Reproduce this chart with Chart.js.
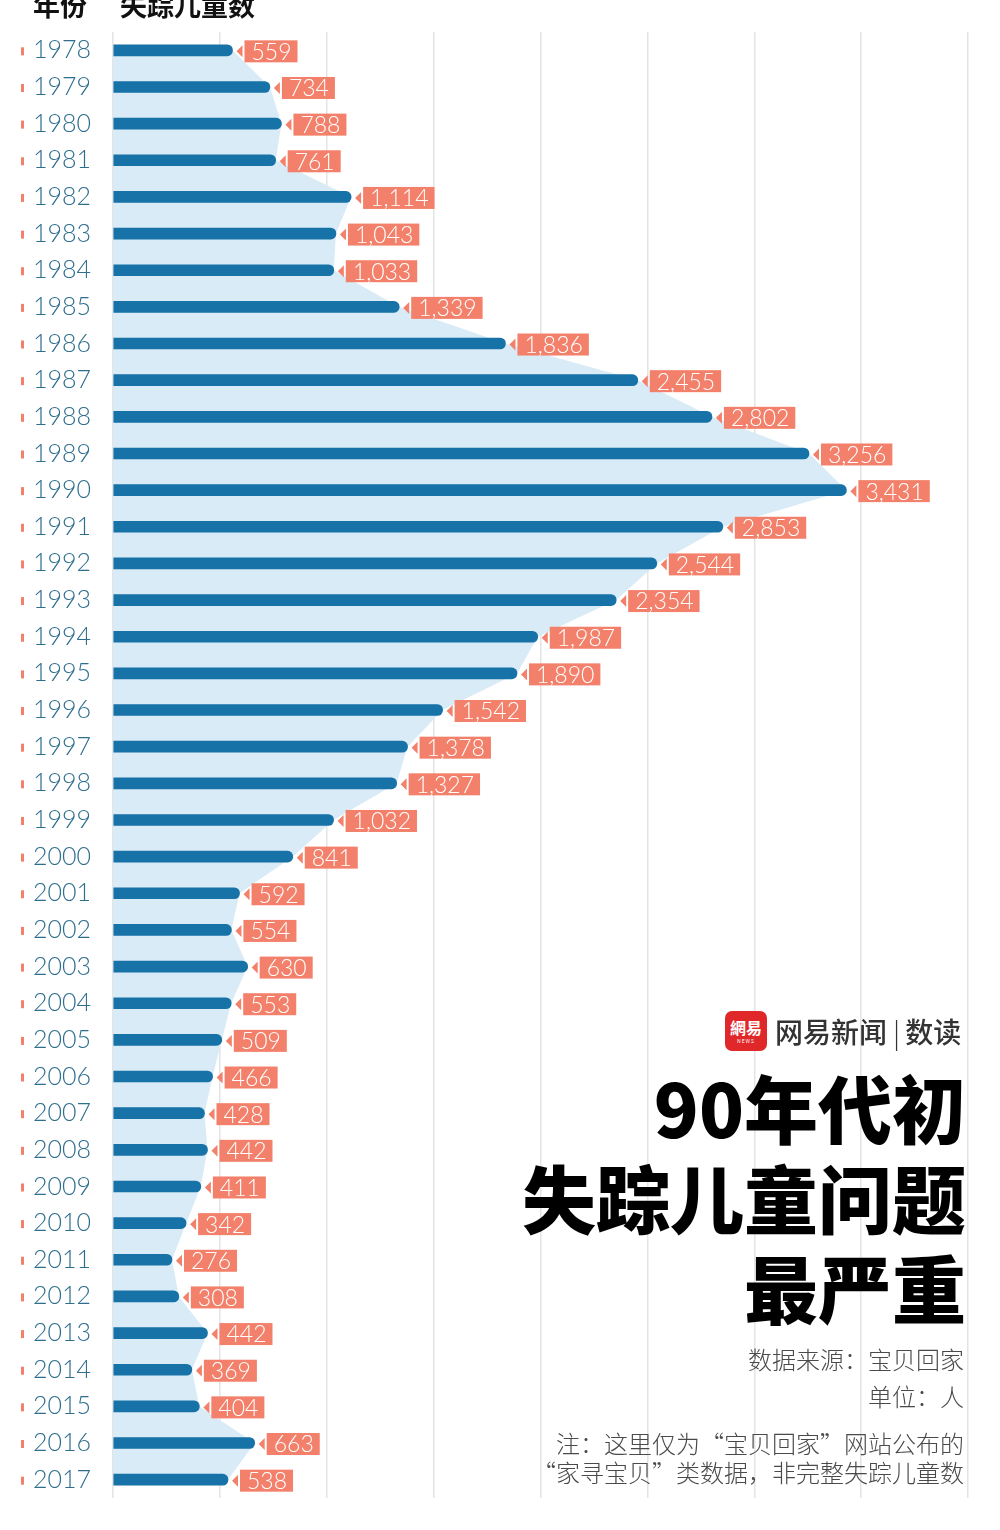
<!DOCTYPE html>
<html>
<head>
<meta charset="utf-8">
<script src="https://cdn.jsdelivr.net/npm/chart.js@4/dist/chart.umd.min.js"></script>
<style>
  body { margin: 0; background: #fff; }
  #wrap { position: relative; width: 1000px; height: 1530px; overflow: hidden; }
  .txt { position: absolute; font-family: "Noto Sans CJK SC", sans-serif; white-space: nowrap; }
  .hdr { top: -9px; font-size: 27px; font-weight: 700; line-height: 28px; color: #111; }
  .title { right: 34px; font-size: 74px; font-weight: 900; line-height: 90px; color: #000; text-align: right; }
  .note { right: 36px; font-size: 24px; font-weight: 300; color: #4a4a4a; text-align: right; line-height: 29px; }
  #logo { position: absolute; left: 725px; top: 1011px; width: 42px; height: 40px; background: #e0272a; border-radius: 7px; color: #fff; text-align: center; font-family: "Noto Sans CJK TC", sans-serif; }
</style>
</head>
<body>
<div id="wrap">
  <canvas id="chartMissing" width="1000" height="1530"></canvas>
  <div class="txt hdr" style="left:33px">年份</div>
  <div class="txt hdr" style="left:120px">失踪儿童数</div>
  <div id="logo"><div style="font-size:16px;font-weight:700;line-height:22px;margin-top:5px">網易</div><div style="font-size:5px;line-height:6px;letter-spacing:1px">NEWS</div></div>
  <div class="txt" style="left:775px;top:1011px;font-size:28px;font-weight:500;color:#333;line-height:40px">网易新闻<span style="font-weight:300;margin:0 5px 0 6px">|</span>数读</div>
  <div class="txt title" style="top:1061px">90年代初</div>
  <div class="txt title" style="top:1151px">失踪儿童问题</div>
  <div class="txt title" style="top:1241px">最严重</div>
  <div class="txt note" style="top:1344px">数据来源：宝贝回家</div>
  <div class="txt note" style="top:1381px">单位：人</div>
  <div class="txt note" style="top:1428px">注：这里仅为“宝贝回家”网站公布的</div>
  <div class="txt note" style="top:1457px">“家寻宝贝”类数据，非完整失踪儿童数</div>
</div>
<script>
const years = ["1978","1979","1980","1981","1982","1983","1984","1985","1986","1987",
  "1988","1989","1990","1991","1992","1993","1994","1995","1996","1997",
  "1998","1999","2000","2001","2002","2003","2004","2005","2006","2007",
  "2008","2009","2010","2011","2012","2013","2014","2015","2016","2017"];
const missingCounts = [559,734,788,761,1114,1043,1033,1339,1836,2455,
  2802,3256,3431,2853,2544,2354,1987,1890,1542,1378,
  1327,1032,841,592,554,630,553,509,466,428,
  442,411,342,276,308,442,369,404,663,538];
const xTicks = [0,500,1000,1500,2000,2500,3000,3500,4000];

const barBlue = "#1772a8";
const salmon = "#f3806a";

// value tags: small pointer + salmon box at each bar end
const valueTags = {
  id: "valueTags",
  afterDatasetsDraw(chart) {
    const ctx = chart.ctx;
    const meta = chart.getDatasetMeta(1);
    ctx.save();
    ctx.font = "300 23px Lato, sans-serif";
    ctx.textBaseline = "middle";
    meta.data.forEach((bar, i) => {
      const label = missingCounts[i].toLocaleString("en-US");
      const tip = bar.x + 4;
      const boxX = tip + 8;
      const w = ctx.measureText(label).width + 13;
      const cy = bar.y + 1;
      ctx.fillStyle = salmon;
      ctx.beginPath();
      ctx.moveTo(tip, cy);
      ctx.lineTo(tip + 6, cy - 6);
      ctx.lineTo(tip + 6, cy + 6);
      ctx.closePath();
      ctx.fill();
      ctx.fillRect(boxX, cy - 11, w, 22);
      ctx.fillStyle = "#fff";
      ctx.fillText(label, boxX + 7, cy + 1);
    });
    ctx.restore();
  }
};

// little salmon markers before the year labels
const yearMarks = {
  id: "yearMarks",
  afterDraw(chart) {
    const ctx = chart.ctx;
    const y = chart.scales.y;
    ctx.save();
    ctx.fillStyle = salmon;
    years.forEach((yr, i) => {
      ctx.fillRect(21, y.getPixelForValue(i) - 3, 3, 8);
    });
    ctx.restore();
  }
};

const data = {
  labels: years,
  datasets: [
    {
      type: "line",
      label: "area",
      data: missingCounts,
      fill: "origin",
      backgroundColor: "#d9ebf6",
      borderWidth: 0,
      pointRadius: 0,
      tension: 0,
      order: 2,
    },
    {
      type: "bar",
      label: "失踪儿童数",
      data: missingCounts,
      backgroundColor: barBlue,
      barThickness: 11,
      borderRadius: 5.5,
      borderSkipped: "start",
      order: 1,
    },
  ],
};

const config = {
  type: "bar",
  data,
  options: {
    indexAxis: "y",
    responsive: false,
    animation: false,
    layout: { padding: { top: 32, bottom: 32, right: 32, left: 33 } },
    plugins: { legend: { display: false }, tooltip: { enabled: false } },
    scales: {
      x: {
        type: "linear",
        min: 0,
        max: 4000,
        afterBuildTicks: (scale) => { scale.ticks = xTicks.map((v) => ({ value: v })); },
        ticks: { display: false },
        grid: { color: "#e4e4e4", lineWidth: 1.5, drawTicks: false },
        border: { display: false },
      },
      y: {
        type: "category",
        offset: true,
        afterFit: (scale) => { scale.width = 80; },
        grid: { display: false, drawTicks: false },
        border: { display: false },
        ticks: {
          crossAlign: "far",
          padding: 0,
          color: "#2e6e8e",
          font: { family: "Lato", size: 25, weight: "300" },
          autoSkip: false,
        },
      },
    },
  },
  plugins: [valueTags, yearMarks],
};

const chartMissing = new Chart(document.getElementById("chartMissing"), config);
</script>
</body>
</html>
